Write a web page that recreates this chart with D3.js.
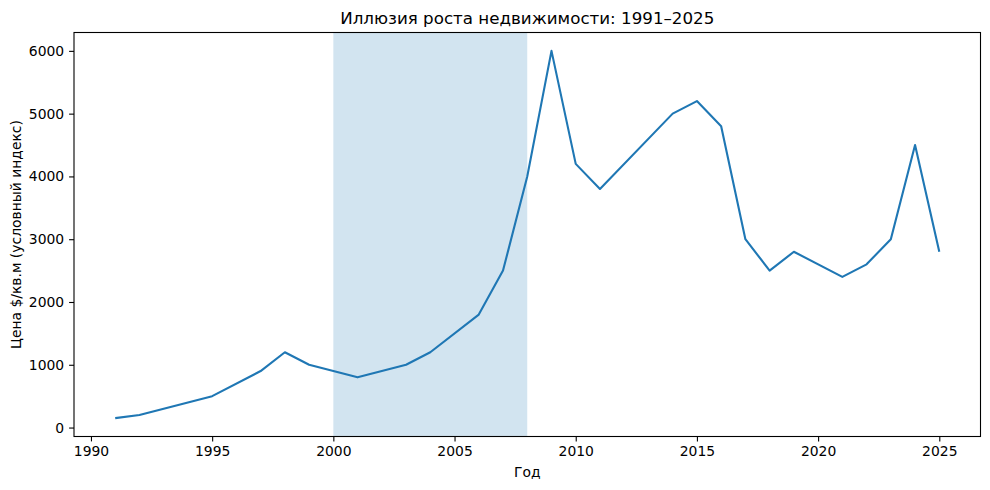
<!DOCTYPE html>
<html>
<head>
<meta charset="utf-8">
<script src="https://cdn.jsdelivr.net/npm/d3@7"></script>
<style>
  body { margin: 0; background: #fff; }
  text { font-family: "DejaVu Sans", sans-serif; }
</style>
</head>
<body>
<div id="grafico"></div>
<script>
const anos = [1991, 1992, 1995, 1997, 1998, 1999, 2001, 2003, 2004, 2006, 2007, 2008,
              2009, 2010, 2011, 2014, 2015, 2016, 2017, 2018, 2019, 2021, 2022, 2023, 2024, 2025];
const precos = [150, 200, 500, 900, 1200, 1000, 800, 1000, 1200, 1800, 2500, 4000,
                6000, 4200, 3800, 5000, 5200, 4800, 3000, 2500, 2800, 2400, 2600, 3000, 4500, 2800];
const periodoBolha = [2000, 2008];
const ticksX = [1990, 1995, 2000, 2005, 2010, 2015, 2020, 2025];
const ticksY = [0, 1000, 2000, 3000, 4000, 5000, 6000];

const titulo = "Иллюзия роста недвижимости: 1991–2025";
const rotuloX = "Год";
const rotuloY = "Цена $/кв.м (условный индекс)";

const dados = anos.map((a, i) => ({ ano: a, preco: precos[i] }));

function criarGrafico(target) {
    const largura = 990;
    const altura = 490;
    // plot area as in the picture
    const esq = 74, dir = 980.5, topo = 32.5, base = 436.5;

    const svg = d3.select(target)
        .append("svg")
        .attr("width", largura)
        .attr("height", altura);

    // matplotlib style 5% margins
    const xMin = d3.min(anos), xMax = d3.max(anos);
    const yMin = d3.min(precos), yMax = d3.max(precos);
    const mx = (xMax - xMin) * 0.05, my = (yMax - yMin) * 0.05;

    const x = d3.scaleLinear().domain([xMin - mx, xMax + mx]).range([esq, dir]);
    const y = d3.scaleLinear().domain([yMin - my, yMax + my]).range([base, topo]);

    // shaded period
    svg.append("rect")
        .attr("x", x(periodoBolha[0]))
        .attr("y", topo)
        .attr("width", x(periodoBolha[1]) - x(periodoBolha[0]))
        .attr("height", base - topo)
        .attr("fill", "#1f77b4")
        .attr("fill-opacity", 0.2);

    // line
    const linha = d3.line()
        .x(d => x(d.ano))
        .y(d => y(d.preco));

    svg.append("path")
        .datum(dados)
        .attr("d", linha)
        .attr("fill", "none")
        .attr("stroke", "#1f77b4")
        .attr("stroke-width", 2.1)
        .attr("stroke-linejoin", "round")
        .attr("stroke-linecap", "butt");

    // axes
    const eixoX = svg.append("g")
        .attr("transform", `translate(0,${base})`)
        .call(d3.axisBottom(x).tickValues(ticksX).tickFormat(d3.format("d")).tickSize(4.9).tickPadding(4.9));
    const eixoY = svg.append("g")
        .attr("transform", `translate(${esq},0)`)
        .call(d3.axisLeft(y).tickValues(ticksY).tickFormat(d3.format("d")).tickSize(4.9).tickPadding(4.9));

    [eixoX, eixoY].forEach(g => {
        g.select(".domain").remove();
        g.selectAll(".tick line").attr("stroke", "#000").attr("stroke-width", 1.1);
        g.selectAll(".tick text").attr("fill", "#000").style("font-size", "13.9px");
    });

    // frame
    svg.append("rect")
        .attr("x", esq)
        .attr("y", topo)
        .attr("width", dir - esq)
        .attr("height", base - topo)
        .attr("fill", "none")
        .attr("stroke", "#000")
        .attr("stroke-width", 1.1);

    // title
    svg.append("text")
        .attr("x", (esq + dir) / 2)
        .attr("y", 24)
        .attr("text-anchor", "middle")
        .attr("fill", "#000")
        .style("font-size", "16.7px")
        .text(titulo);

    // axis labels
    svg.append("text")
        .attr("x", (esq + dir) / 2)
        .attr("y", 477)
        .attr("text-anchor", "middle")
        .attr("fill", "#000")
        .style("font-size", "13.9px")
        .text(rotuloX);

    svg.append("text")
        .attr("transform", `translate(21,${(topo + base) / 2}) rotate(-90)`)
        .attr("text-anchor", "middle")
        .attr("fill", "#000")
        .style("font-size", "13.9px")
        .text(rotuloY);
}

criarGrafico("#grafico");
</script>
</body>
</html>
